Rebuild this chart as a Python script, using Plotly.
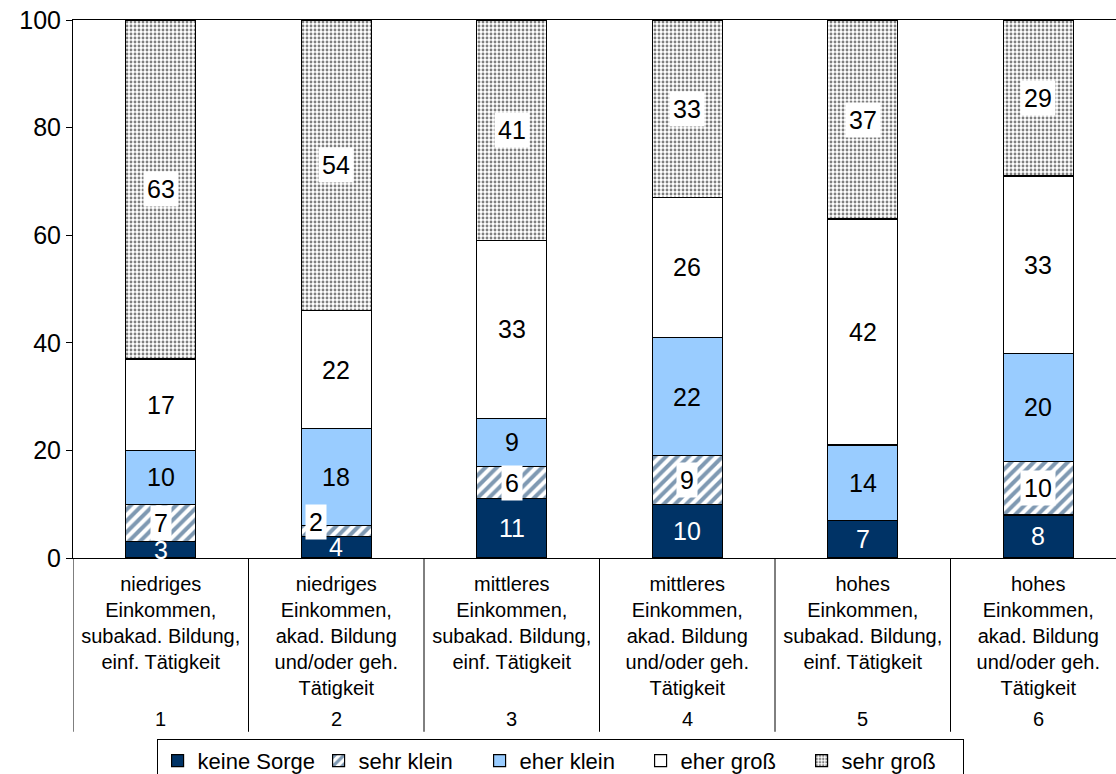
import plotly.graph_objects as go

categories = [
    "niedriges<br>Einkommen,<br>subakad. Bildung,<br>einf. Tätigkeit",
    "niedriges<br>Einkommen,<br>akad. Bildung<br>und/oder geh.<br>Tätigkeit",
    "mittleres<br>Einkommen,<br>subakad. Bildung,<br>einf. Tätigkeit",
    "mittleres<br>Einkommen,<br>akad. Bildung<br>und/oder geh.<br>Tätigkeit",
    "hohes<br>Einkommen,<br>subakad. Bildung,<br>einf. Tätigkeit",
    "hohes<br>Einkommen,<br>akad. Bildung<br>und/oder geh.<br>Tätigkeit",
]
group_numbers = ["1", "2", "3", "4", "5", "6"]

keine_sorge = [3, 4, 11, 10, 7, 8]
sehr_klein = [7, 2, 6, 9, 0, 10]
eher_klein = [10, 18, 9, 22, 14, 20]
eher_gross = [17, 22, 33, 26, 42, 33]
sehr_gross = [63, 54, 41, 33, 37, 29]

series_names = ["keine Sorge", "sehr klein", "eher klein", "eher groß", "sehr groß"]
yticks = [0, 20, 40, 60, 80, 100]

NAVY = "#003366"
LIGHT = "#99CCFF"
FONT = "Liberation Sans, Arial, sans-serif"

series = [keine_sorge, sehr_klein, eher_klein, eher_gross, sehr_gross]
styles = [
    dict(color=NAVY),
    dict(color="white", pattern=dict(shape="/", fgcolor=NAVY, bgcolor="white", size=8, solidity=0.5)),
    dict(color=LIGHT),
    dict(color="white"),
    dict(color="white", pattern=dict(shape=".", fgcolor="black", bgcolor="white", size=4, solidity=0.4)),
]
label_styles = [
    dict(color="white", bg=None),
    dict(color="black", bg="white"),
    dict(color="black", bg=None),
    dict(color="black", bg=None),
    dict(color="black", bg="white"),
]

x_idx = list(range(len(categories)))

fig = go.Figure()
for name, vals, st in zip(series_names, series, styles):
    fig.add_trace(go.Bar(
        x=x_idx, y=vals, name=name, width=0.4,
        marker=dict(line=dict(color="black", width=1.2), **st),
        hoverinfo="skip",
    ))

annotations = []
base = [0] * len(categories)
for si, vals in enumerate(series):
    for ci, v in enumerate(vals):
        mid = base[ci] + v / 2
        if v > 0:
            ls = label_styles[si]
            xshift, yshift = 0, 0
            if v < 4 and si == 1:
                xshift, yshift = -20, 9
            ann = dict(x=ci, y=mid, xref="x", yref="y", text=str(v), showarrow=False,
                       font=dict(family=FONT, size=25, color=ls["color"]),
                       xshift=xshift, yshift=yshift, borderpad=3)
            if ls["bg"]:
                ann["bgcolor"] = ls["bg"]
            annotations.append(ann)
        base[ci] += v

for ci, num in enumerate(group_numbers):
    annotations.append(dict(x=ci, y=-0.299, xref="x", yref="paper", text=num, showarrow=False,
                            font=dict(family=FONT, size=20, color="black"), yanchor="middle"))

shapes = []
for k in range(len(categories) + 1):
    shapes.append(dict(type="line", xref="x", yref="paper", x0=k - 0.5, x1=k - 0.5,
                       y0=0, y1=-0.323, line=dict(color="black", width=1)))

fig.update_layout(
    barmode="stack",
    width=1116, height=774,
    margin=dict(l=73, r=0, t=20, b=216, autoexpand=False),
    paper_bgcolor="white", plot_bgcolor="white",
    font=dict(family=FONT, color="black"),
    showlegend=True,
    legend=dict(orientation="h", x=0.467, xanchor="center", y=-0.336, yanchor="top",
                bordercolor="black", borderwidth=1, bgcolor="white",
                font=dict(family=FONT, size=22), traceorder="normal",
                entrywidth=116, itemwidth=30),
    annotations=annotations,
    shapes=shapes,
    bargap=0.6,
)
fig.update_xaxes(
    range=[-0.5, 5.443], tickvals=x_idx, ticktext=categories, ticks="",
    showline=True, linecolor="black", linewidth=1, mirror=True, automargin=False,
    ticklabelstandoff=8,
    tickfont=dict(family=FONT, size=20, color="black"), showgrid=False, zeroline=False,
)
fig.update_yaxes(
    range=[0, 100], tickvals=yticks, ticks="outside", ticklen=6, tickcolor="black",
    showline=True, linecolor="black", linewidth=1, showgrid=False, zeroline=False,
    automargin=False,
    tickfont=dict(family=FONT, size=25, color="black"),
)

fig.write_html(
    "out.html",
    config={"displayModeBar": False},
    post_script="document.body.style.margin='0';document.body.style.overflow='hidden';",
)
